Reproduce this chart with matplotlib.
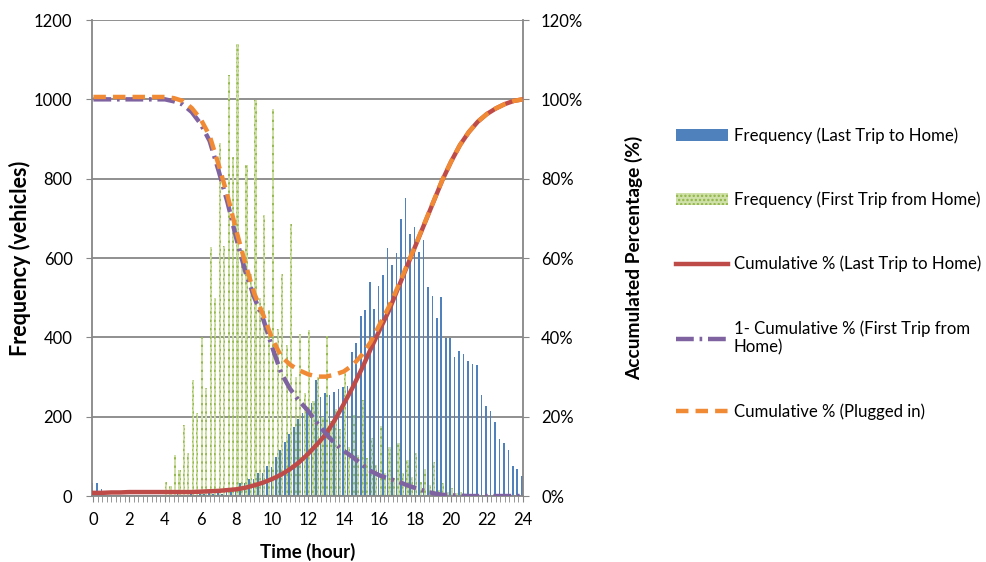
import numpy as np
import matplotlib.pyplot as plt
from matplotlib.lines import Line2D
from matplotlib.patches import Patch
from matplotlib.ticker import FuncFormatter

plt.rcParams['font.family'] = ['Lato', 'DejaVu Sans']
plt.rcParams['hatch.linewidth'] = 1.1

# 15-minute bins, 0:00 .. 24:00
bin_hours = np.arange(97) / 4

last_trip_freq = [
    33, 33, 17, 0, 2, 0, 0, 3, 0, 0, 2, 0, 0, 0, 3, 0,
    0, 2, 0, 4, 2, 3, 5, 3, 6, 4, 7, 5, 8, 6, 10, 9,
    12, 32, 32, 42, 42, 59, 59, 76, 73, 99, 116, 137, 156, 173, 193, 210,
    217, 235, 292, 250, 259, 255, 262, 270, 275, 278, 364, 385, 455, 469, 540, 471,
    529, 557, 626, 582, 612, 698, 752, 660, 679, 614, 645, 528, 505, 448, 502, 399,
    399, 350, 365, 358, 341, 333, 330, 255, 227, 215, 186, 144, 133, 116, 76, 68,
    51,
]

first_trip_freq = [
    0, 0, 0, 0, 0, 0, 0, 0, 0, 0, 0, 0, 0, 0, 0, 0,
    36, 25, 103, 66, 179, 109, 292, 209, 401, 272, 628, 499, 889, 630, 1061, 855,
    1139, 620, 834, 560, 998, 500, 708, 470, 975, 420, 559, 380, 687, 300, 408, 260,
    418, 240, 300, 200, 403, 190, 220, 170, 310, 124, 204, 103, 242, 95, 146, 78,
    176, 58, 124, 45, 134, 58, 91, 49, 109, 36, 68, 28, 86, 15, 33, 10,
    20, 8, 10, 4, 6, 2, 3, 0, 0, 2, 0, 0, 0, 0, 0, 0,
    0,
]

# cumulative curves, sampled every half hour (percent)
curve_hours = np.arange(49) / 2

cum_last_trip = [
    0.8, 0.8, 0.9, 0.9, 1.0, 1.0, 1.0, 1.0, 1.0, 1.0, 1.0, 1.0, 1.1, 1.2, 1.3, 1.5,
    1.7, 2.1, 2.7, 3.4, 4.3, 5.4, 6.8, 8.5, 10.6, 13.0, 15.6, 19.2, 23.2, 27.4, 32.0, 37.0,
    41.8, 46.5, 52.0, 57.5, 63.0, 68.5, 74.0, 79.5, 84.3, 88.5, 91.8, 94.4, 96.3, 97.7, 98.8, 99.6,
    100.0,
]

one_minus_cum_first = [
    100, 100, 100, 100, 100, 100, 100, 100, 100, 99.5, 98.7, 96.8, 93.8, 89.5, 82.0, 74.0,
    64.8, 56.5, 50.0, 44.5, 37.5, 31.0, 27.0, 24.0, 21.5, 18.4, 15.7, 13.2, 11.4, 9.8, 8.0, 6.3,
    5.2, 4.4, 3.7, 2.8, 2.0, 1.3, 0.7, 0.3, 0.2, 0.1, 0, 0, 0, 0, 0, 0,
    0,
]

cum_plugged = [
    100.6, 100.6, 100.6, 100.6, 100.6, 100.6, 100.6, 100.6, 100.6, 100.3, 99.6, 97.8, 95.0, 90.8, 83.5, 75.7,
    66.7, 58.5, 51.0, 45.6, 39.6, 35.2, 33.1, 31.7, 30.7, 30.1, 30.1, 30.6, 31.4, 33.0, 35.5, 38.8,
    43.2, 47.5, 52.5, 57.8, 63.2, 68.6, 74.1, 79.6, 84.3, 88.5, 91.8, 94.4, 96.3, 97.7, 98.8, 99.6,
    100.0,
]

blue = '#4f81bd'
green = '#8fb446'
green_fill = '#cfe0a8'
red = '#be4b48'
purple = '#7f63a1'
orange = '#f08a35'
grid_gray = '#878787'

fig = plt.figure(figsize=(9.86, 5.62), dpi=100)
ax = fig.add_axes([0.0933, 0.1174, 0.4371, 0.8470])

ax.bar(bin_hours - 0.05, last_trip_freq, width=0.09, color=blue, linewidth=0, zorder=2)
ax.bar(bin_hours + 0.06, first_trip_freq, width=0.12, facecolor=green_fill,
       edgecolor=green, hatch='....', linewidth=0, zorder=2)

ax.set_xlim(-0.08, 24.02)
ax.set_ylim(0, 1200)
ax.set_yticks(range(0, 1201, 200))
ax.set_xticks(range(0, 25, 2))
ax.set_xticks(np.arange(0, 24.01, 0.25), minor=True)
ax.yaxis.grid(True, color=grid_gray, linewidth=1.3)
ax.set_axisbelow(True)
for side in ['top', 'right']:
    ax.spines[side].set_visible(False)
for side in ['left', 'bottom']:
    ax.spines[side].set_color(grid_gray)
    ax.spines[side].set_linewidth(1.3)
ax.tick_params(axis='both', which='both', color=grid_gray, labelsize=12, length=4)
ax.tick_params(axis='x', which='major', pad=7.5)
ax.tick_params(axis='y', pad=10)

ax.set_xlabel('Time (hour)', fontsize=13.5, fontweight='bold')
ax.set_ylabel('Frequency (vehicles)', fontsize=15.5, fontweight='bold')
ax.xaxis.set_label_coords(0.5, -0.099)
ax.yaxis.set_label_coords(-0.142, 0.5)

ax2 = ax.twinx()
ax2.plot(curve_hours, cum_last_trip, color=red, linewidth=3.2, zorder=3)
ax2.plot(curve_hours, one_minus_cum_first, color=purple, linewidth=3.2,
         dashes=(4, 1.3, 0.6, 1.3), zorder=4)
ax2.plot(curve_hours, cum_plugged, color=orange, linewidth=3.2,
         dashes=(2.8, 1.6), zorder=5)
ax2.set_ylim(0, 120)
ax2.set_yticks(range(0, 121, 20))
ax2.yaxis.set_major_formatter(FuncFormatter(lambda v, _: f'{v:.0f}%'))
for side in ['top', 'left', 'bottom']:
    ax2.spines[side].set_visible(False)
ax2.spines['right'].set_color(grid_gray)
ax2.spines['right'].set_linewidth(1.3)
ax2.tick_params(axis='y', color=grid_gray, labelsize=12, length=4, pad=9)
ax2.set_ylabel('Accumulated Percentage (%)', fontsize=13.8, fontweight='bold')
ax2.yaxis.set_label_coords(1.2367, 0.5)

handles = [
    Patch(facecolor=blue, linewidth=0),
    Patch(facecolor=green_fill, edgecolor=green, hatch='....', linewidth=0),
    Line2D([], [], color=red, linewidth=3.2),
    Line2D([], [], color=purple, linewidth=3.2, dashes=(4, 1.3, 0.6, 1.3)),
    Line2D([], [], color=orange, linewidth=3.2, dashes=(2.8, 1.6)),
]
labels = [
    'Frequency (Last Trip to Home)',
    'Frequency (First Trip from Home)',
    'Cumulative % (Last Trip to Home)',
    '1- Cumulative % (First Trip from\nHome)',
    'Cumulative % (Plugged in)',
]
fig.legend(handles, labels, loc='upper left', bbox_to_anchor=(0.6785, 0.786),
           frameon=False, fontsize=12.1, labelspacing=2.85, handlelength=3.1,
           handletextpad=0.35, borderaxespad=0)

fig.savefig('out.png', dpi=100)
